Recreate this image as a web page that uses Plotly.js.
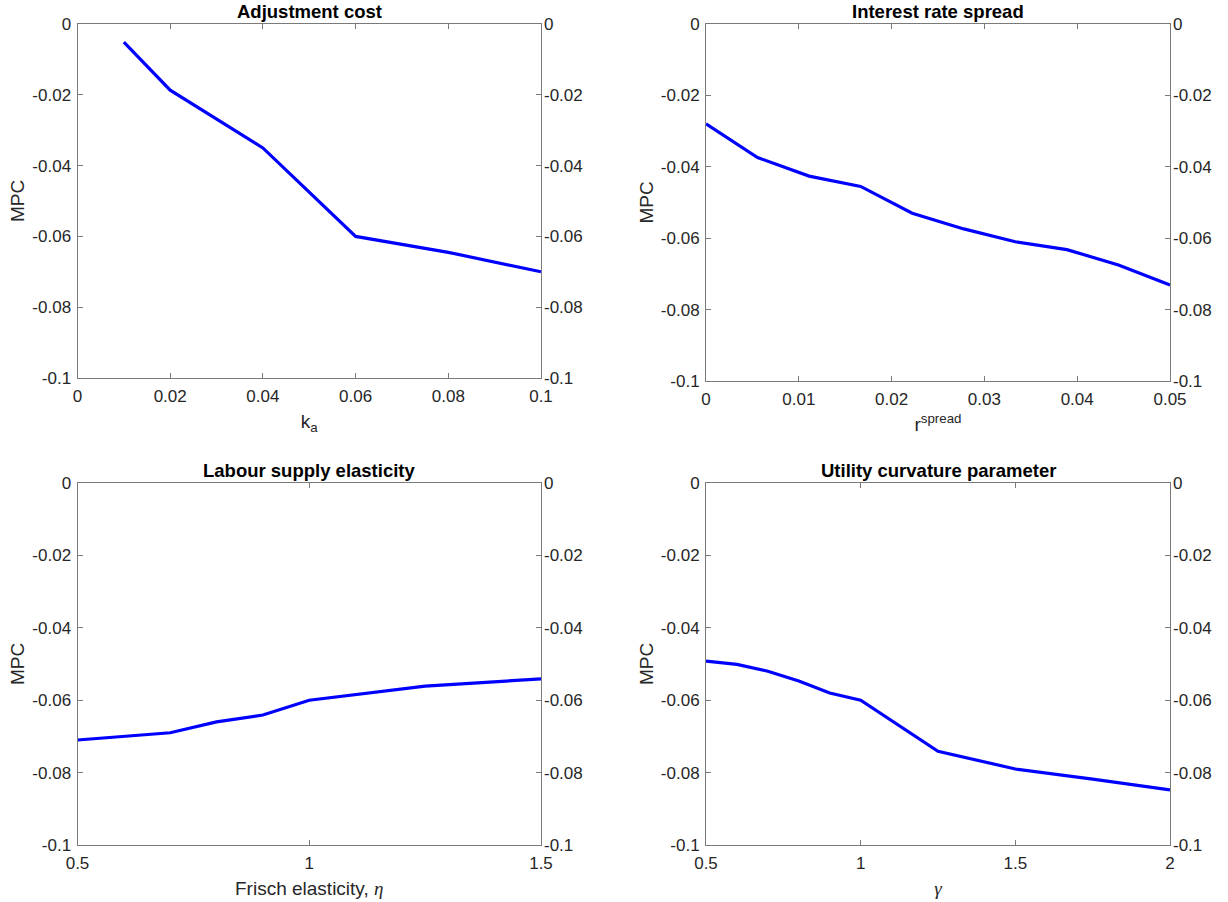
<!DOCTYPE html>
<html>
<head>
<meta charset="utf-8">
<script src="https://cdn.plot.ly/plotly-3.0.1.min.js"></script>
<style>html,body{margin:0;padding:0;background:#fff;}#chart{width:1228px;height:902px;}</style>
</head>
<body>
<div id="chart"></div>
<script>
// ---- data ----
const adjCostX = [0.01, 0.02, 0.04, 0.06, 0.08, 0.10];
const adjCostY = [-0.0051, -0.0187, -0.0350, -0.0600, -0.0645, -0.0700];

const spreadX = [0, 0.005556, 0.011111, 0.016667, 0.022222, 0.027778, 0.033333, 0.038889, 0.044444, 0.05];
const spreadY = [-0.0280, -0.0374, -0.0426, -0.0455, -0.0530, -0.0574, -0.0610, -0.0632, -0.0675, -0.0731];

const frischX = [0.5, 0.7, 0.8, 0.9, 1.0, 1.25, 1.5];
const frischY = [-0.0710, -0.0690, -0.0660, -0.0641, -0.0600, -0.0561, -0.0541];

const gammaX = [0.5, 0.6, 0.7, 0.8, 0.9, 1.0, 1.25, 1.5, 1.75, 2.0];
const gammaY = [-0.0492, -0.0501, -0.0520, -0.0547, -0.0580, -0.0600, -0.0741, -0.0790, -0.0818, -0.0848];

const titles = ["Adjustment cost", "Interest rate spread", "Labour supply elasticity", "Utility curvature parameter"];
const xTitles = ["k<sub>a</sub>", "r<sup>spread</sup>",
  "Frisch elasticity, <span style=\"font-family:'Liberation Serif';font-style:italic\">η</span>",
  "<span style=\"font-family:'Liberation Serif';font-style:italic\">γ</span>"];
const xRanges = [[0, 0.1], [0, 0.05], [0.5, 1.5], [0.5, 2]];
const xTicks = [[0, 0.02, 0.04, 0.06, 0.08, 0.1], [0, 0.01, 0.02, 0.03, 0.04, 0.05], [0.5, 1, 1.5], [0.5, 1, 1.5, 2]];
const xTickText = [["0", "0.02", "0.04", "0.06", "0.08", "0.1"], ["0", "0.01", "0.02", "0.03", "0.04", "0.05"], ["0.5", "1", "1.5"], ["0.5", "1", "1.5", "2"]];
const yTicks = [0, -0.02, -0.04, -0.06, -0.08, -0.1];
const yTickText = ["0", "-0.02", "-0.04", "-0.06", "-0.08", "-0.1"];
const yLabel = "MPC";

const seriesX = [adjCostX, spreadX, frischX, gammaX];
const seriesY = [adjCostY, spreadY, frischY, gammaY];

// ---- layout geometry ----
const W = 1228, H = 902;
const boxes = [
  {l: 77.5, r: 541, t: 24, b: 378},
  {l: 706, r: 1170, t: 24, b: 381},
  {l: 77.5, r: 541, t: 483, b: 845},
  {l: 706, r: 1170, t: 483, b: 845}
];

const FONT = "Liberation Sans, Arial, Helvetica, sans-serif";
const axisCol = "#7a7a7a";
const txtCol = "#262626";
const TICK = 17, LAB = 19, TTL = 18.5;

const data = [];
const layout = {
  width: W, height: H,
  margin: {l: 0, r: 0, t: 0, b: 0},
  paper_bgcolor: "#ffffff", plot_bgcolor: "#ffffff",
  showlegend: false,
  font: {family: FONT, size: TICK, color: txtCol},
  annotations: []
};

for (let i = 0; i < 4; i++) {
  const n = i + 1;
  const xa = n === 1 ? "x" : "x" + n;
  const ya = n === 1 ? "y" : "y" + n;
  const yr = "y" + (n + 4);
  const b = boxes[i];
  const xd = [b.l / W, b.r / W];
  const yd = [1 - b.b / H, 1 - b.t / H];

  data.push({
    x: seriesX[i], y: seriesY[i], xaxis: xa, yaxis: ya,
    type: "scatter", mode: "lines",
    line: {color: "#0000ff", width: 3.2},
    hoverinfo: "skip"
  });

  layout["xaxis" + (n === 1 ? "" : n)] = {
    domain: xd, anchor: ya, range: xRanges[i],
    tickmode: "array", tickvals: xTicks[i], ticktext: xTickText[i],
    ticks: "inside", ticklen: 5, tickcolor: axisCol, tickwidth: 1,
    showline: true, linecolor: axisCol, linewidth: 1, mirror: "ticks",
    showgrid: false, zeroline: false,
    tickfont: {family: FONT, size: TICK, color: txtCol},
    ticklabelstandoff: 3,
    title: {text: xTitles[i], font: {family: FONT, size: LAB, color: txtCol}, standoff: 9}
  };
  layout["yaxis" + (n === 1 ? "" : n)] = {
    domain: yd, anchor: xa, range: [-0.1, 0],
    tickmode: "array", tickvals: yTicks, ticktext: yTickText,
    ticks: "inside", ticklen: 5, tickcolor: axisCol, tickwidth: 1,
    showline: true, linecolor: axisCol, linewidth: 1, mirror: "ticks",
    showgrid: false, zeroline: false,
    tickfont: {family: FONT, size: TICK, color: txtCol},
    ticklabelstandoff: 2,
    title: {text: yLabel, font: {family: FONT, size: LAB, color: txtCol}, standoff: 2}
  };
  layout["yaxis" + (n + 4)] = {
    overlaying: ya, anchor: xa, side: "right", range: [-0.1, 0],
    tickmode: "array", tickvals: yTicks, ticktext: yTickText,
    ticks: "", showline: false,
    showgrid: false, zeroline: false,
    tickfont: {family: FONT, size: TICK, color: txtCol},
    ticklabelstandoff: 2
  };
  // invisible helper so the right axis is drawn (no visible marks)
  data.push({
    x: [xRanges[i][0]], y: [0], xaxis: xa, yaxis: yr,
    type: "scatter", mode: "markers", marker: {opacity: 0}, hoverinfo: "skip"
  });

  layout.annotations.push({
    text: "<b>" + titles[i] + "</b>",
    xref: "paper", yref: "paper",
    x: (xd[0] + xd[1]) / 2, y: yd[1],
    xanchor: "center", yanchor: "bottom", yshift: 0,
    showarrow: false,
    font: {family: FONT, size: TTL, color: "#000000"}
  });
}

Plotly.newPlot("chart", data, layout, {displayModeBar: false, staticPlot: true});
</script>
</body>
</html>
